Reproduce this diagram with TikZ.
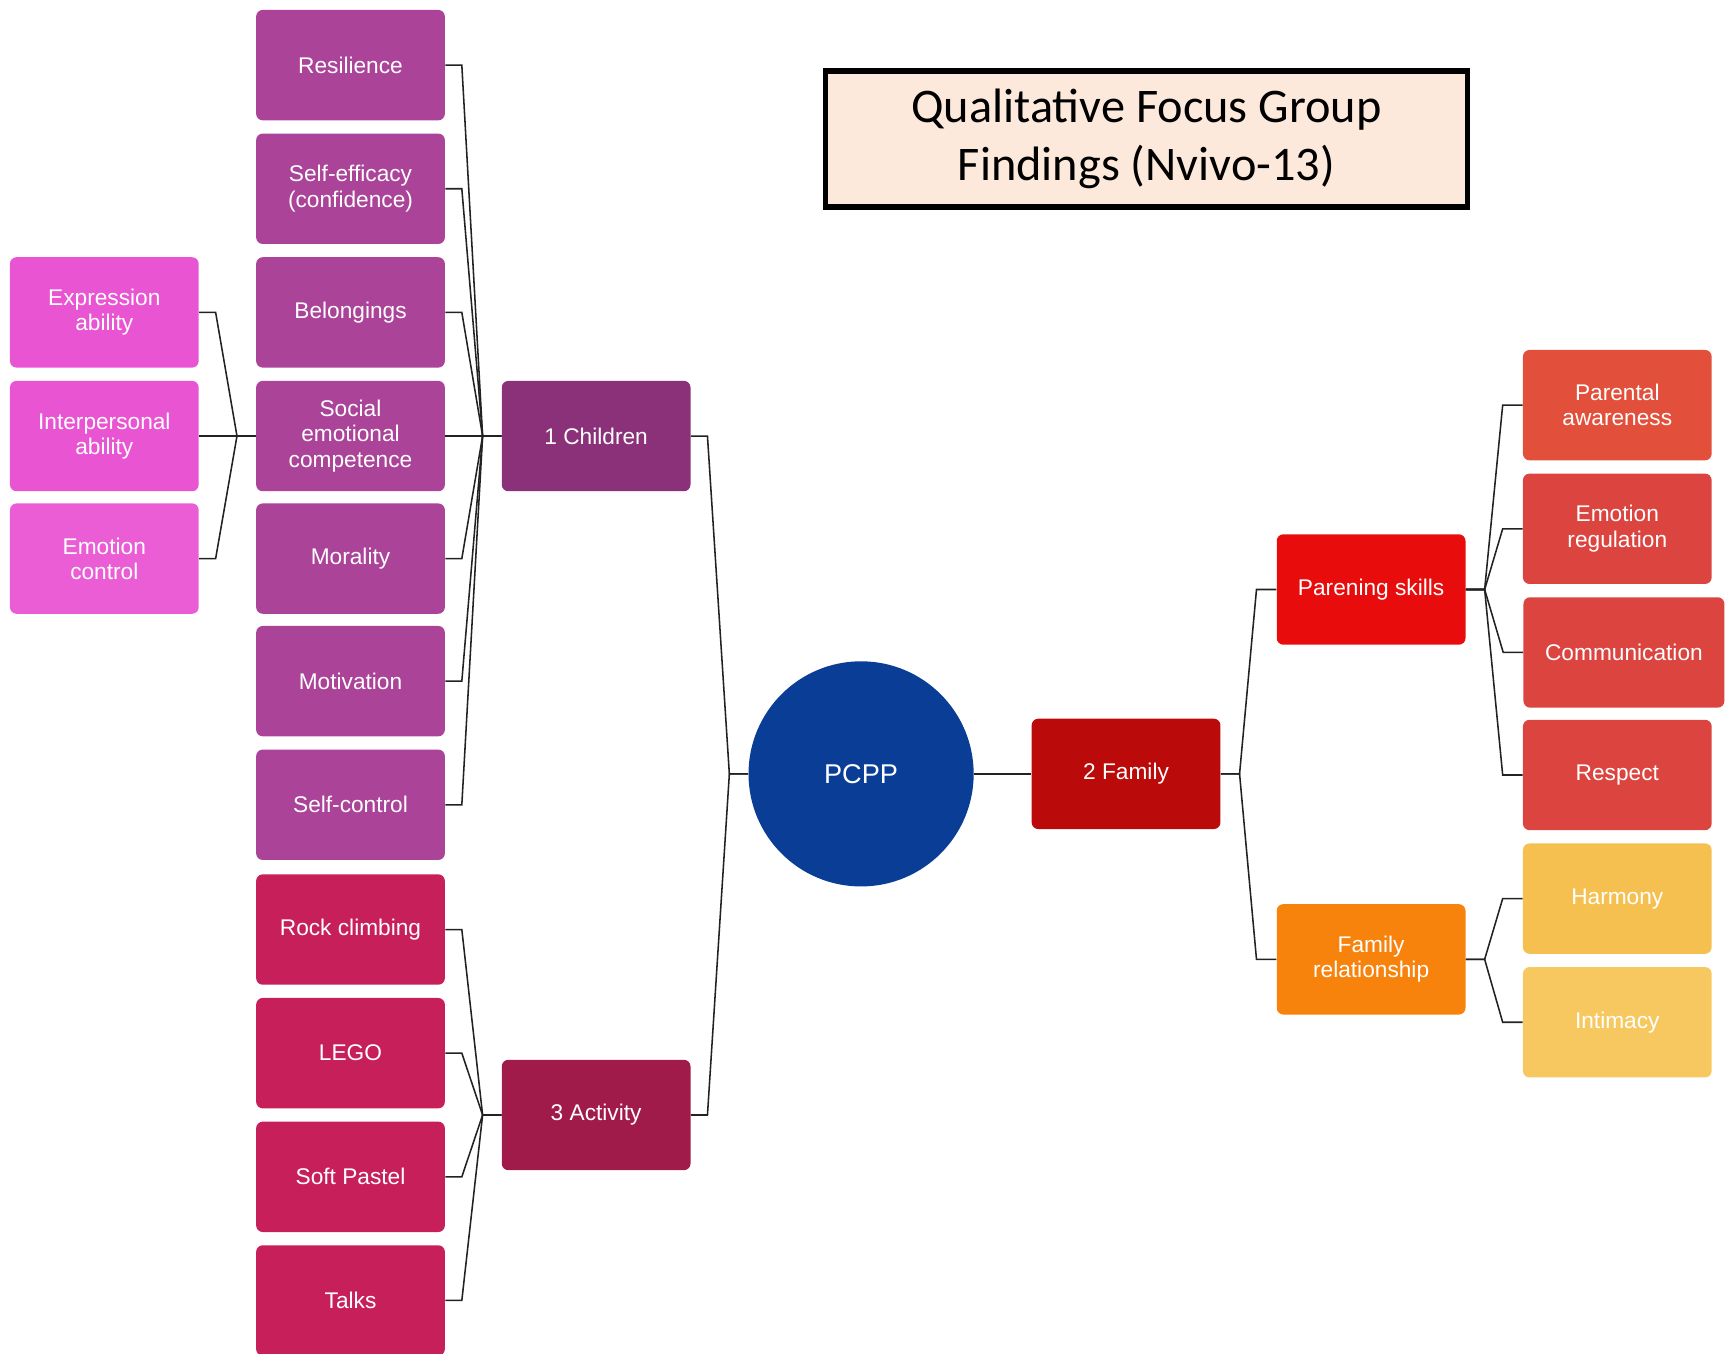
\documentclass[tikz,border=0pt]{standalone}
\usepackage{fontspec}
\setmainfont{Liberation Sans}
\newfontfamily\titlefont{Carlito}
\usetikzlibrary{calc}

\definecolor{cTitle}{HTML}{FDE9DB}
\definecolor{cLeft}{HTML}{E954D3}
\definecolor{cChildSub}{HTML}{AB4399}
\definecolor{cChildren}{HTML}{8A3179}
\definecolor{cActSub}{HTML}{C71F5A}
\definecolor{cActivity}{HTML}{A01A4A}
\definecolor{cCore}{HTML}{0A3D96}
\definecolor{cFamily}{HTML}{BB0A0A}
\definecolor{cSkills}{HTML}{E80C0C}
\definecolor{cSkillSub}{HTML}{DC4440}
\definecolor{cAware}{HTML}{E24F3A}
\definecolor{cRel}{HTML}{F7820C}
\definecolor{cHarm}{HTML}{F6C050}
\definecolor{cInti}{HTML}{F8C860}
\definecolor{cLine}{HTML}{222222}

\tikzset{
  box/.style={rectangle, rounded corners=3.4pt, minimum width=3.42cm,
    minimum height=2cm, inner sep=2pt, align=center, text=white,
    font=\fontsize{11.7}{13.1}\selectfont},
  link/.style={draw=cLine, line width=0.8pt, line join=miter},
}

% child on the left of its parent
\newcommand\leftlink[2]{\draw[link] (#1.east) -- ++(15,0) -- ($(#2.west)+(-17,0)$) -- (#2.west);}
% child on the right of its parent
\newcommand\rightlink[2]{\draw[link] (#1.east) -- ++(17,0) -- ($(#2.west)+(-18,0)$) -- (#2.west);}

\begin{document}
\begin{tikzpicture}[x=0.02cm, y=-0.02cm]
\useasboundingbox (0,0) rectangle (1568,1226);

% title
\node[draw=black, line width=2.8pt, fill=cTitle, minimum width=11.64cm,
  minimum height=2.46cm, inner sep=0pt, align=center,
  font=\titlefont\fontsize{24.9}{30}\selectfont] (title) at (1038.5,126)
  {Qualitative Focus Group\\Findings (Nvivo-13)};

% centre
\node[circle, fill=cCore, minimum size=4.08cm, inner sep=0pt, text=white,
  font=\fontsize{14}{16}\selectfont] (pcpp) at (780,701) {PCPP};

% children branch
\node[box, fill=cChildren] (children) at (540,395) {1 Children};
\node[box, fill=cChildSub] (resil) at (317.5,59) {Resilience};
\node[box, fill=cChildSub] (selfeff) at (317.5,171) {Self-efficacy\\(confidence)};
\node[box, fill=cChildSub] (belong) at (317.5,283) {Belongings};
\node[box, fill=cChildSub] (social) at (317.5,395) {Social\\emotional\\competence};
\node[box, fill=cChildSub] (moral) at (317.5,506) {Morality};
\node[box, fill=cChildSub] (motiv) at (317.5,617) {Motivation};
\node[box, fill=cChildSub] (selfctl) at (317.5,729) {Self-control};

\node[box, fill=cLeft] (expr) at (94.5,283) {Expression\\ability};
\node[box, fill=cLeft] (inter) at (94.5,395) {Interpersonal\\ability};
\node[box, fill=cLeft!95!white] (emoctl) at (94.5,506) {Emotion\\control};

% activity branch
\node[box, fill=cActivity] (activity) at (540,1010) {3 Activity};
\node[box, fill=cActSub] (rock) at (317.5,842) {Rock climbing};
\node[box, fill=cActSub] (lego) at (317.5,954) {LEGO};
\node[box, fill=cActSub] (pastel) at (317.5,1066) {Soft Pastel};
\node[box, fill=cActSub] (talks) at (317.5,1178) {Talks};

% family branch
\node[box, fill=cFamily] (family) at (1020,701) {2 Family};
\node[box, fill=cSkills] (skills) at (1242,534) {Parening skills};
\node[box, fill=cRel] (rel) at (1242,869) {Family\\relationship};
\node[box, fill=cAware] (aware) at (1465,367) {Parental\\awareness};
\node[box, fill=cSkillSub] (emoreg) at (1465,479) {Emotion\\regulation};
\node[box, fill=cSkillSub, minimum width=3.64cm] (comm) at (1471,591) {Communication};
\node[box, fill=cSkillSub] (respect) at (1465,702) {Respect};
\node[box, fill=cHarm] (harm) at (1465,814) {Harmony};
\node[box, fill=cInti] (inti) at (1465,926) {Intimacy};

% connectors
\foreach \c in {resil,selfeff,belong,social,moral,motiv,selfctl}
  {\leftlink{\c}{children}}
\foreach \c in {expr,inter,emoctl}
  {\leftlink{\c}{social}}
\foreach \c in {rock,lego,pastel,talks}
  {\leftlink{\c}{activity}}
\leftlink{children}{pcpp}
\leftlink{activity}{pcpp}
\draw[link] (pcpp.east) -- (family.west);
\rightlink{family}{skills}
\rightlink{family}{rel}
\foreach \c in {aware,emoreg,comm,respect}
  {\rightlink{skills}{\c}}
\foreach \c in {harm,inti}
  {\rightlink{rel}{\c}}
\end{tikzpicture}
\end{document}
